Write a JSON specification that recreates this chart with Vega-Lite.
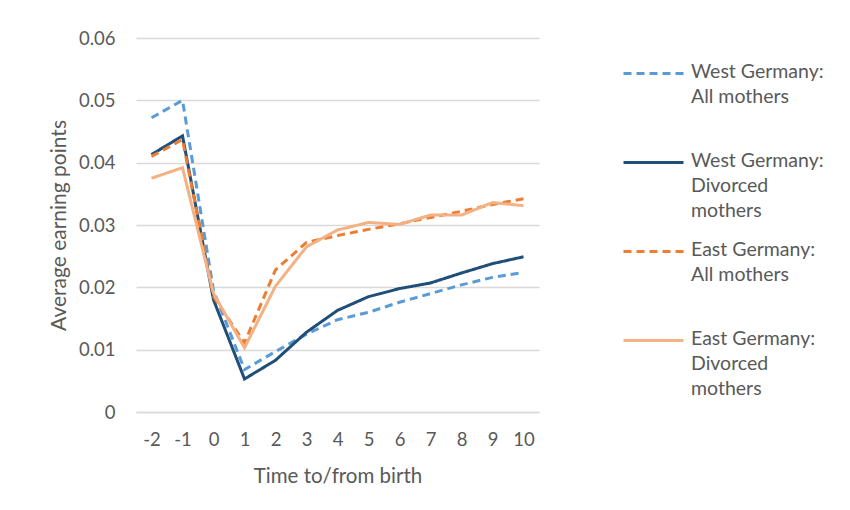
{
  "$schema": "https://vega.github.io/schema/vega-lite/v6.json",
  "width": 403,
  "height": 374,
  "autosize": {"type": "none"},
  "padding": {"left": 136, "top": 38, "right": 311, "bottom": 98},
  "background": "white",
  "config": {
    "view": {"stroke": null},
    "font": "Lato",
    "axis": {"labelFont": "Lato", "titleFont": "Lato", "labelColor": "#595959", "titleColor": "#595959", "titleFontWeight": "normal"}
  },
  "data": {
    "values": [
      {"t": -2, "s": "West Germany:|All mothers| ", "v": 0.0472},
      {"t": -1, "s": "West Germany:|All mothers| ", "v": 0.0500},
      {"t": 0, "s": "West Germany:|All mothers| ", "v": 0.0195},
      {"t": 1, "s": "West Germany:|All mothers| ", "v": 0.0068},
      {"t": 2, "s": "West Germany:|All mothers| ", "v": 0.0097},
      {"t": 3, "s": "West Germany:|All mothers| ", "v": 0.0125},
      {"t": 4, "s": "West Germany:|All mothers| ", "v": 0.0148},
      {"t": 5, "s": "West Germany:|All mothers| ", "v": 0.0160},
      {"t": 6, "s": "West Germany:|All mothers| ", "v": 0.0176},
      {"t": 7, "s": "West Germany:|All mothers| ", "v": 0.0190},
      {"t": 8, "s": "West Germany:|All mothers| ", "v": 0.0204},
      {"t": 9, "s": "West Germany:|All mothers| ", "v": 0.0216},
      {"t": 10, "s": "West Germany:|All mothers| ", "v": 0.0224},
      {"t": -2, "s": "West Germany:|Divorced|mothers", "v": 0.0413},
      {"t": -1, "s": "West Germany:|Divorced|mothers", "v": 0.0443},
      {"t": 0, "s": "West Germany:|Divorced|mothers", "v": 0.0180},
      {"t": 1, "s": "West Germany:|Divorced|mothers", "v": 0.0053},
      {"t": 2, "s": "West Germany:|Divorced|mothers", "v": 0.0083},
      {"t": 3, "s": "West Germany:|Divorced|mothers", "v": 0.0128},
      {"t": 4, "s": "West Germany:|Divorced|mothers", "v": 0.0163},
      {"t": 5, "s": "West Germany:|Divorced|mothers", "v": 0.0185},
      {"t": 6, "s": "West Germany:|Divorced|mothers", "v": 0.0198},
      {"t": 7, "s": "West Germany:|Divorced|mothers", "v": 0.0207},
      {"t": 8, "s": "West Germany:|Divorced|mothers", "v": 0.0223},
      {"t": 9, "s": "West Germany:|Divorced|mothers", "v": 0.0238},
      {"t": 10, "s": "West Germany:|Divorced|mothers", "v": 0.0249},
      {"t": -2, "s": "East Germany:|All mothers| ", "v": 0.0410},
      {"t": -1, "s": "East Germany:|All mothers| ", "v": 0.0437},
      {"t": 0, "s": "East Germany:|All mothers| ", "v": 0.0185},
      {"t": 1, "s": "East Germany:|All mothers| ", "v": 0.0111},
      {"t": 2, "s": "East Germany:|All mothers| ", "v": 0.0228},
      {"t": 3, "s": "East Germany:|All mothers| ", "v": 0.0272},
      {"t": 4, "s": "East Germany:|All mothers| ", "v": 0.0283},
      {"t": 5, "s": "East Germany:|All mothers| ", "v": 0.0293},
      {"t": 6, "s": "East Germany:|All mothers| ", "v": 0.0302},
      {"t": 7, "s": "East Germany:|All mothers| ", "v": 0.0312},
      {"t": 8, "s": "East Germany:|All mothers| ", "v": 0.0322},
      {"t": 9, "s": "East Germany:|All mothers| ", "v": 0.0333},
      {"t": 10, "s": "East Germany:|All mothers| ", "v": 0.0342},
      {"t": -2, "s": "East Germany:|Divorced|mothers", "v": 0.0375},
      {"t": -1, "s": "East Germany:|Divorced|mothers", "v": 0.0392},
      {"t": 0, "s": "East Germany:|Divorced|mothers", "v": 0.0190},
      {"t": 1, "s": "East Germany:|Divorced|mothers", "v": 0.0103},
      {"t": 2, "s": "East Germany:|Divorced|mothers", "v": 0.0202},
      {"t": 3, "s": "East Germany:|Divorced|mothers", "v": 0.0265},
      {"t": 4, "s": "East Germany:|Divorced|mothers", "v": 0.0292},
      {"t": 5, "s": "East Germany:|Divorced|mothers", "v": 0.0304},
      {"t": 6, "s": "East Germany:|Divorced|mothers", "v": 0.0301},
      {"t": 7, "s": "East Germany:|Divorced|mothers", "v": 0.0316},
      {"t": 8, "s": "East Germany:|Divorced|mothers", "v": 0.0316},
      {"t": 9, "s": "East Germany:|Divorced|mothers", "v": 0.0336},
      {"t": 10, "s": "East Germany:|Divorced|mothers", "v": 0.0331}
    ]
  },
  "mark": {"type": "line", "strokeWidth": 3, "strokeCap": "butt", "strokeJoin": "miter"},
  "encoding": {
    "x": {
      "field": "t", "type": "ordinal", "sort": "ascending",
      "scale": {"type": "point", "padding": 0.5},
      "axis": {"title": "Time to/from birth", "labelAngle": 0, "labelFontSize": 18.5, "titleFontSize": 20.5, "ticks": false, "domain": true, "domainColor": "#D9D9D9", "domainWidth": 1.3, "labelPadding": 18, "titlePadding": 18}
    },
    "y": {
      "field": "v", "type": "quantitative",
      "scale": {"domain": [0, 0.06], "nice": false},
      "axis": {"title": "Average earning points", "values": [0, 0.01, 0.02, 0.03, 0.04, 0.05, 0.06], "labelExpr": "datum.value == 0 ? '0' : format(datum.value, '.2f')", "labelFontSize": 18.5, "titleFontSize": 21, "ticks": false, "domain": false, "gridColor": "#D9D9D9", "gridWidth": 1.3, "labelPadding": 21, "titlePadding": 9}
    },
    "color": {
      "field": "s", "type": "nominal",
      "sort": ["West Germany:|All mothers| ", "West Germany:|Divorced|mothers", "East Germany:|All mothers| ", "East Germany:|Divorced|mothers"],
      "scale": {"domain": ["West Germany:|All mothers| ", "West Germany:|Divorced|mothers", "East Germany:|All mothers| ", "East Germany:|Divorced|mothers"], "range": ["#5B9BD5", "#1F4E79", "#ED7D31", "#F4B183"]},
      "legend": {
        "title": null, "orient": "none", "legendX": 486, "legendY": 4,
        "labelExpr": "split(datum.label, '|')",
        "labelFontSize": 19.5, "labelColor": "#595959", "labelFont": "Lato",
        "labelBaseline": "top", "labelOffset": 6,
        "symbolType": "stroke", "symbolSize": 3600, "symbolStrokeWidth": 3,
        "rowPadding": 0,
        "labelLimit": 300,
        "encode": {"labels": {"update": {"lineHeight": {"value": 25}, "dy": {"value": -11}}}}
      }
    },
    "strokeDash": {
      "field": "s", "type": "nominal",
      "scale": {"domain": ["West Germany:|All mothers| ", "West Germany:|Divorced|mothers", "East Germany:|All mothers| ", "East Germany:|Divorced|mothers"], "range": [[8, 5], [1, 0], [8, 5], [1, 0]]},
      "legend": null
    }
  }
}
